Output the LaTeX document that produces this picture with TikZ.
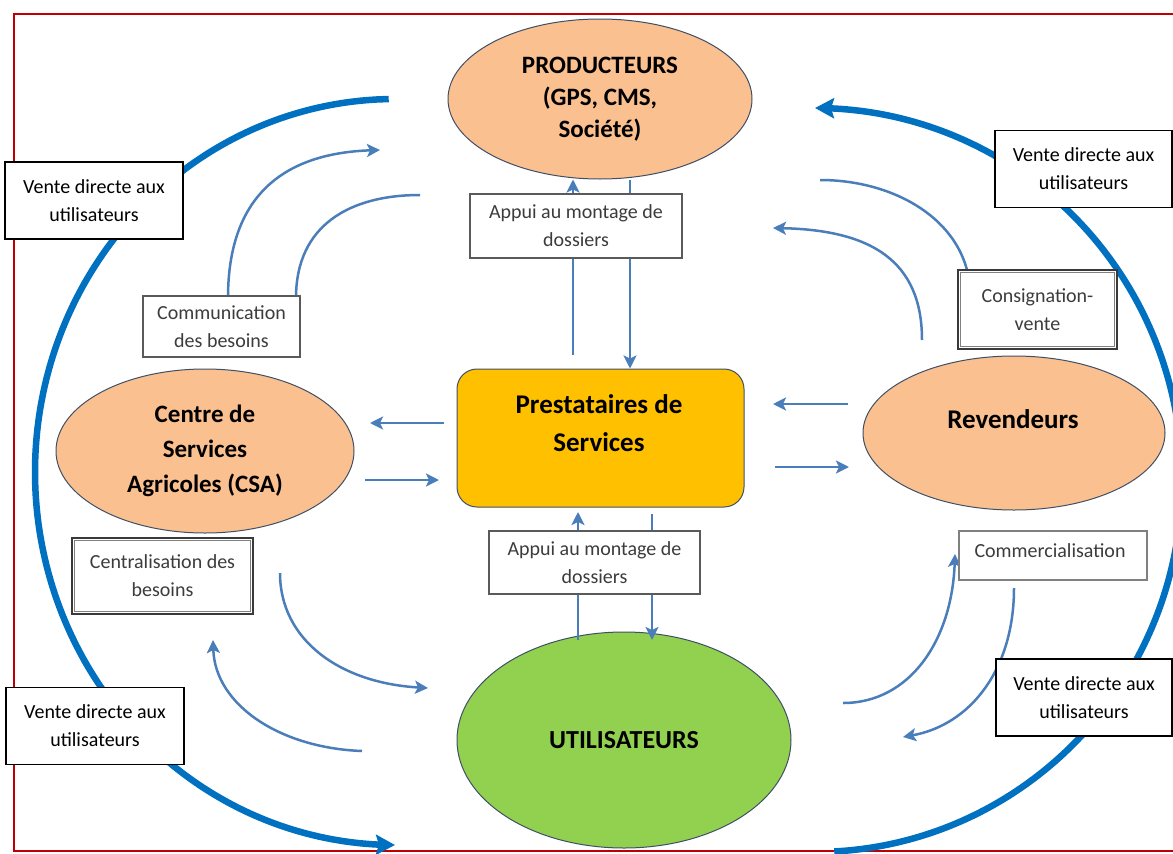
\documentclass[tikz,border=0pt]{standalone}
\usepackage{fontspec}
\setmainfont{Carlito}
\usetikzlibrary{shapes.geometric,arrows.meta}
\definecolor{peach}{HTML}{FAC090}
\definecolor{leafgreen}{HTML}{92D050}
\definecolor{gold}{HTML}{FFC000}
\definecolor{outl}{HTML}{3F4F66}
\definecolor{tblue}{HTML}{4A7EBB}
\definecolor{bblue}{HTML}{0070C0}
\definecolor{frame}{HTML}{C00000}
\definecolor{gbord}{HTML}{5A5A5A}
\definecolor{dbord}{HTML}{3A3A3A}
\definecolor{gtext}{HTML}{3C3C3C}
\begin{document}
\begin{tikzpicture}[x=1pt,y=-1pt,
  font=\fontsize{20}{28}\selectfont,
  ell/.style={ellipse, draw=outl, line width=1pt, inner sep=0pt, align=center, font=\fontsize{25}{32}\selectfont\bfseries},
  lbl/.style={rectangle, draw=black, line width=1.8pt, fill=white, align=center, inner sep=0pt, text=black},
  glbl/.style={rectangle, draw=gbord, line width=1.5pt, fill=white, align=center, inner sep=0pt, text=gtext},
  dlbl/.style={glbl, draw=dbord, line width=2.5pt},
  innerline/.style={draw=gray, line width=0.9pt},
  tarrow/.style={draw=tblue, line width=2.5pt, -{Stealth[length=13pt,width=13pt,inset=3pt]}},
  tline/.style={draw=tblue, line width=2.5pt},
  bigarc/.style={draw=bblue, line width=6.5pt, -{Stealth[length=19pt,width=20pt,inset=3pt]}},
]
\useasboundingbox (0,0) rectangle (1173,854);
\fill[white] (0,0) rectangle (1173,854);
\draw[draw=frame, line width=1.8pt] (14,14) rectangle (1195,851);

% main shapes
\node[ell, fill=peach, minimum width=304pt, minimum height=160pt] (prod) at (600,99) {PRODUCTEURS\\(GPS, CMS,\\Société)};
\node[ell, fill=peach, minimum width=298pt, minimum height=164pt, font=\fontsize{25}{35}\selectfont\bfseries] (csa) at (205,451) {Centre de\\Services\\Agricoles (CSA)};
\node[ell, fill=peach, minimum width=302pt, minimum height=154pt] (rev) at (1014,433) {};
\node[font=\fontsize{27}{32}\selectfont\bfseries] (revt) at (1013,419) {Revendeurs};
\node[ell, fill=leafgreen, minimum width=334pt, minimum height=216pt, font=\fontsize{26}{32}\selectfont\bfseries] (uti) at (624,740) {UTILISATEURS};
\node[draw=outl, line width=1pt, fill=gold, rounded corners=20pt, minimum width=287pt, minimum height=138pt, inner sep=0pt] (prest) at (600.5,438) {};
\node[font=\fontsize{27}{38}\selectfont\bfseries, align=center] (prestt) at (599,423) {Prestataires de\\Services};

% big arcs
\draw[bigarc] plot[domain=269:90, samples=90, smooth] ({395+360*cos(\x)},{472+373*sin(\x)});
\draw[bigarc] plot[domain=87:-90, samples=90, smooth] ({815+367*cos(\x)},{480+372*sin(\x)});

% straight thin arrows
\coordinate (a1s) at (573,355);
\coordinate (a2s) at (630,180);
\coordinate (a3s) at (578,640); \coordinate (a3e) at (578,512);
\coordinate (a4s) at (652,514); \coordinate (a4e) at (652,640);
\coordinate (a5s) at (444,423); \coordinate (a5e) at (370,423);
\coordinate (a6s) at (365,480); \coordinate (a6e) at (439,480);
\coordinate (a7s) at (848,404); \coordinate (a7e) at (773,404);
\coordinate (a8s) at (775,467); \coordinate (a8e) at (849,467);
\draw[tarrow] (a1s) -- (a1s |- prod.south);
\draw[tarrow] (a2s) -- (a2s |- prest.north);
\draw[tarrow] (a3s) -- (a3e);
\draw[tarrow] (a4s) -- (a4e);
\draw[tarrow] (a5s) -- (a5e);
\draw[tarrow] (a6s) -- (a6e);
\draw[tarrow] (a7s) -- (a7e);
\draw[tarrow] (a8s) -- (a8e);

% curved thin connectors
\coordinate (cA1) at (228,298); \coordinate (cA2) at (380,150);
\coordinate (cB1) at (420,195); \coordinate (cB2) at (296,298);
\coordinate (cC1) at (820,180); \coordinate (cC2) at (968,274);
\coordinate (cD1) at (922,340); \coordinate (cD2) at (773,228);
\coordinate (cE1) at (280,573); \coordinate (cE2) at (428,688);
\coordinate (cF1) at (362,751); \coordinate (cF2) at (213,640);
\coordinate (cG1) at (843,703); \coordinate (cG2) at (955,554);
\coordinate (cH1) at (1014,588); \coordinate (cH2) at (903,737);
\draw[tarrow] (cA1) .. controls (228,190) and (290,153) .. (cA2);
\draw[tline] (cB1) .. controls (350,195) and (296,225) .. (cB2);
\draw[tline] (cC1) .. controls (890,180) and (955,215) .. (cC2);
\draw[tarrow] (cD1) .. controls (922,260) and (870,230) .. (cD2);
\draw[tarrow] (cE1) .. controls (280,640) and (340,683) .. (cE2);
\draw[tarrow] (cF1) .. controls (280,748) and (215,705) .. (cF2);
\draw[tarrow] (cG1) .. controls (910,703) and (952,640) .. (cG2);
\draw[tarrow] (cH1) .. controls (1014,670) and (970,725) .. (cH2);

% label boxes
\node[glbl, minimum width=212pt, minimum height=64pt] (appui1) at (576,226) {Appui au montage de\\dossiers};
\node[glbl, minimum width=211pt, minimum height=63pt] (appui2) at (594.5,562.5) {Appui au montage de\\dossiers};
\node[glbl, minimum width=157pt, minimum height=61pt] (comm) at (221.5,326.5) {Communication\\des besoins};
\node[lbl, minimum width=178pt, minimum height=77pt] (vtl) at (94,200.5) {Vente directe aux\\utilisateurs};
\node[lbl, minimum width=177pt, minimum height=77pt] (vtr) at (1083.5,169) {Vente directe aux\\utilisateurs};
\node[lbl, minimum width=178pt, minimum height=77pt] (vbl) at (95,726) {Vente directe aux\\utilisateurs};
\node[lbl, minimum width=176pt, minimum height=77pt] (vbr) at (1084,697.5) {Vente directe aux\\utilisateurs};
\node[dlbl, minimum width=159pt, minimum height=79pt] (consig) at (1037.5,309.5) {Consignation-\\vente};
\draw[innerline] ([shift={(4,4)}]consig.north west) rectangle ([shift={(-4,-4)}]consig.south east);
\node[dlbl, minimum width=181pt, minimum height=76pt] (centr) at (162.5,576) {Centralisation des\\besoins};
\draw[innerline] ([shift={(4,4)}]centr.north west) rectangle ([shift={(-4,-4)}]centr.south east);
\node[glbl, draw=gray, line width=2pt, minimum width=188pt, minimum height=49pt] (commerc) at (1053,555.5) {};
\node[text=gtext] (commerct) at (1050,551) {Commercialisation};
\end{tikzpicture}
\end{document}
